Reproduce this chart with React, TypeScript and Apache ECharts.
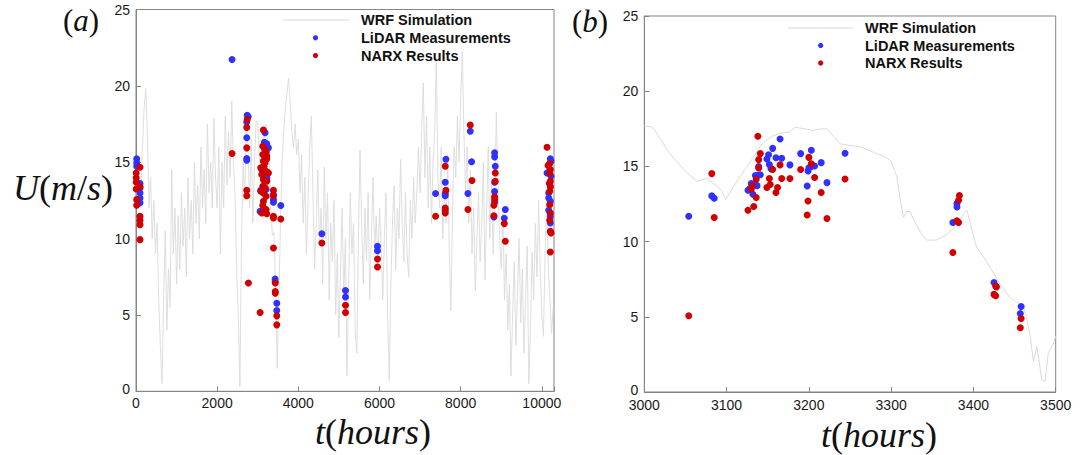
import React, { useEffect, useRef } from 'react';
import * as echarts from 'echarts';

// ---------- Panel (a): WRF simulation (hours, m/s), read every ~40 h ----------
const wrfHoursA = [
  0, 40, 80, 120, 160, 200, 240, 280, 320, 360, 400, 440, 480, 520, 560, 600, 640, 680, 720, 760, 800, 840, 880, 920, 960,
  1000, 1040, 1080, 1120, 1160, 1200, 1240, 1280, 1320, 1360, 1400, 1440, 1480, 1520, 1560, 1600, 1640, 1680, 1720, 1760, 1800, 1840, 1880, 1920, 1960,
  2000, 2040, 2080, 2120, 2160, 2200, 2240, 2280, 2320, 2360, 2400, 2440, 2480, 2520, 2560, 2600, 2640, 2680, 2720, 2760, 2800, 2840, 2880, 2920, 2960,
  3000, 3040, 3080, 3120, 3160, 3200, 3240, 3280, 3320, 3360, 3400, 3440, 3480,
  3520, 3560, 3600, 3640, 3680, 3720, 3760, 3800, 3840, 3880, 3920, 3960,
  4000, 4040, 4080, 4120, 4160, 4200, 4240, 4280, 4320, 4360, 4400, 4440, 4480, 4520, 4560, 4600, 4640, 4680, 4720, 4760, 4800, 4840, 4880, 4920, 4960,
  5000, 5040, 5080, 5120, 5160, 5200, 5240, 5280, 5320, 5360, 5400, 5440, 5480, 5520, 5560, 5600, 5640, 5680, 5720, 5760, 5800, 5840, 5880, 5920, 5960,
  6000, 6040, 6080, 6120, 6160, 6200, 6240, 6280, 6320, 6360, 6400, 6440, 6480, 6520, 6560, 6600, 6640, 6680, 6720, 6760, 6800, 6840, 6880, 6920, 6960,
  7000, 7040, 7080, 7120, 7160, 7200, 7240, 7280, 7320, 7360, 7400, 7440, 7480, 7520, 7560, 7600, 7640, 7680, 7720, 7760, 7800, 7840, 7880, 7920, 7960,
  8000, 8040, 8080, 8120, 8160, 8200, 8240, 8280, 8320, 8360, 8400, 8440, 8480, 8520, 8560, 8600, 8640, 8680, 8720, 8760, 8800, 8840, 8880, 8920, 8960,
  9000, 9040, 9080, 9120, 9160, 9200, 9240, 9280, 9320, 9360, 9400, 9440, 9480, 9520, 9560, 9600, 9640, 9680, 9720, 9760, 9800, 9840, 9880, 9920, 9960,
  10000, 10040, 10080, 10120, 10160, 10200, 10240, 10280,
];
const wrfSpeedA = [
  13.5, 12.5, 14, 13, 16, 18.5, 19.8, 17, 12, 14, 10, 12.5, 9, 11, 6, 3, 0.5, 6, 10.5, 4, 8, 5.5, 14.5, 9, 12,
  7, 11.5, 8, 13, 9.5, 12, 7.5, 14, 10, 12.5, 9, 15, 11, 13.5, 10, 16, 12, 14.5, 11, 17.5, 13, 15, 12, 17.9, 14,
  12, 16, 9, 15, 12, 18, 13.5, 17, 14, 19, 15, 13, 8, 5, 0.3, 10, 15, 12.5, 18, 16, 12, 16.5, 11, 15, 17.7,
  17.7, 15.3, 13.9, 14.6, 17.1, 17.5, 16.5, 15.9, 12.0, 10.2, 10.4, 6.6, 1.5,
  6, 11, 15, 17, 18.5, 19.5, 20.5, 19, 17, 16, 17.5, 15.5,
  16.5, 13, 15.5, 11, 14, 9, 12.5, 16, 18, 13, 8, 11, 14.5, 9.5, 12, 7, 14.7, 10, 13, 6, 11, 8.5, 12.5, 5, 9,
  3.5, 8, 12, 6, 10, 1.0, 7, 13, 9, 11, 4, 2.5, 10, 15.8, 11, 7, 12, 8.5, 13, 6, 10, 14, 9, 11.5, 8,
  12, 9.5, 6, 10, 13, 5, 0.7, 7, 11, 13.5, 8, 12, 10, 15.2, 11, 8.5, 13, 9, 7.5, 12.5, 10, 14, 11, 13, 16,
  13, 17, 20.2, 14, 18, 12, 16, 11, 15, 17, 21.7, 14, 12, 16, 10, 13, 11, 15.5, 9, 5.3, 12, 16, 14, 18, 15,
  19, 22.2, 17, 13, 16, 11, 14.5, 9, 12, 6.6, 10, 13, 8.5, 11, 15, 7.3, 12, 16, 10, 14, 9, 12.5, 18.3, 13, 10,
  8, 12, 6, 9, 4, 7, 1.0, 5, 8.5, 3, 6.5, 10, 4.5, 8, 2.5, 6, 9.5, 0.5, 4, 9.1, 6, 11, 7.5, 12.5, 8,
  5, 3.6, 9, 12.5, 8, 6, 3.8, 5.5,
];

// ---------- Panel (a): LiDAR measurements ----------
const lidarHoursA = [
  17, 17, 17, 99, 99, 99, 99, 99,
  2367,
  2740, 2765, 2729, 2729, 2729, 2729,
  3181, 3164, 3222, 3263, 3099, 3181, 3222, 3074, 3058, 3206, 3206,
  3387, 3387, 3387, 3568, 3428, 3428, 3469, 3469,
  4580, 5162, 5162, 5951, 5951,
  7382, 7637, 7620, 7620, 7620,
  8237, 8269, 8179,
  8837, 8837, 8853, 8837, 8837, 8837, 8820,
  9100, 9075,
  10210, 10227, 10128, 10227, 10170, 10170, 10210, 10170, 10210, 10210,
];
const lidarSpeedA = [
  15.22, 14.96, 14.74, 13.6, 13.32, 12.99, 12.66, 12.34,
  21.72,
  18.08, 17.98, 17.63, 16.6, 15.24, 15.13,
  16.93, 16.31, 16.2, 15.94, 14.52, 14.08, 13.98, 13.16, 11.78, 13.86, 13.21,
  12.88, 12.55, 12.38, 12.16, 7.35, 7.19, 5.77, 5.29,
  10.32, 6.6, 6.17, 9.49, 9.2,
  12.95, 15.2, 13.69, 12.95, 12.81,
  17.03, 15.03, 12.95,
  15.62, 15.35, 14.74, 13.69, 13.08, 12.38, 11.42,
  11.9, 11.33,
  15.22, 15.07, 14.3, 14.08, 12.99, 12.66, 12.44, 11.85, 11.46, 11.02,
];

// ---------- Panel (a): NARX results ----------
const narxHoursA = [
  5, 5, 5, 5, 99, 17, 17, 99, 99, 99, 99, 99,
  2367,
  2740, 2729, 2729, 2729, 2729, 2770, 3058,
  3140, 3124, 3165, 3206, 3124, 3222, 3140, 3181, 3222, 3074, 3156, 3206, 3099, 3263, 3140, 3222, 3124, 3181, 3074, 3140,
  3206, 3140, 3124, 3206, 3099, 3222,
  3387, 3387, 3387, 3387, 3568, 3387, 3432, 3432, 3432, 3469, 3469,
  4580, 5162, 5162, 5951, 5951,
  7382, 7620, 7637, 7620, 7620, 7620,
  8237, 8280, 8179,
  8853, 8853, 8837, 8837, 8820, 8820,
  9075, 9100,
  10128, 10153, 10194, 10210, 10194, 10210, 10186, 10210, 10194, 10194, 10210, 10194, 10210, 10227, 10210,
];
const narxSpeedA = [
  14.3, 13.98, 13.69, 13.25, 14.67, 12.55, 12.18, 13.39, 11.46, 11.19, 10.91, 9.93,
  15.57,
  17.8, 17.28, 15.94, 13.16, 12.81, 7.09, 5.16,
  17.1, 16.05, 15.88, 15.66, 15.5, 15.4, 15.07, 14.96, 15.22, 14.63, 14.74, 14.41, 14.19, 14.3, 13.86, 13.75, 13.43, 13.32, 13.1, 12.99,
  12.77, 12.44, 12.16, 11.9, 11.68, 11.63,
  13.16, 12.81, 11.46, 11.35, 11.28, 9.38, 7.09, 6.54, 6.43, 4.94, 4.35,
  9.71, 5.64, 5.16, 8.66, 8.14,
  11.46, 14.74, 13.16, 12.0, 11.85, 11.68,
  17.43, 13.8, 11.9,
  14.3, 13.75, 12.73, 12.55, 12.18, 11.5,
  10.98, 9.82,
  15.98, 14.78, 14.91, 14.52, 14.26, 13.75, 13.6, 13.39, 13.1, 12.22, 11.68, 11.2, 10.47, 10.37, 9.12,
];

// ---------- Panel (b): WRF simulation ----------
const wrfHoursB = [
  3000, 3010, 3020, 3030, 3040, 3050, 3058, 3064, 3076, 3088, 3094, 3099, 3108, 3116, 3130, 3143, 3155, 3165, 3177, 3183,
  3195, 3205, 3215, 3222, 3230, 3238, 3250, 3262, 3272, 3282, 3290, 3299, 3303, 3307, 3311, 3315, 3319, 3323, 3327, 3331,
  3337, 3343, 3355, 3362, 3368, 3374, 3380, 3386, 3392, 3398, 3404, 3412, 3420, 3432, 3444, 3452, 3461, 3465, 3469, 3473,
  3477, 3480, 3483, 3487, 3491, 3497, 3500,
];
const wrfSpeedB = [
  17.7, 17.6, 16.8, 15.9, 15.3, 14.7, 14.3, 14.0, 14.2, 13.7, 13.4, 12.8, 13.6, 14.3, 15.4, 16.5, 17.0, 17.2, 17.3, 17.6,
  17.5, 17.4, 17.5, 17.5, 17.0, 16.5, 16.4, 16.3, 16.1, 15.85, 15.7, 15.4, 14.9, 14.3, 12.8, 11.6, 12.0, 12.0, 11.5, 11.1,
  10.5, 10.1, 10.1, 10.3, 10.5, 10.8, 11.1, 11.7, 12.1, 10.8, 9.6, 9.0, 8.3, 7.2, 6.3, 6.0, 5.7, 4.8, 3.7, 2.0,
  3.0, 2.0, 0.8, 0.7, 2.6, 3.2, 3.7,
];

// ---------- Panel (b): LiDAR measurements ----------
const lidarHoursB = [
  3054, 3082, 3085, 3165, 3156, 3151, 3149, 3160, 3167, 3139, 3152, 3154, 3177, 3135, 3138, 3141, 3130, 3133, 3137, 3126,
  3128, 3132, 3190, 3203, 3199, 3200, 3203, 3207, 3215, 3222, 3198, 3244,
  3380, 3380, 3375, 3425, 3458, 3457,
];
const lidarSpeedB = [
  11.69, 13.04, 12.88, 16.82, 16.2, 15.78, 15.49, 15.58, 15.54, 14.99, 15.12, 14.85, 15.1, 14.39, 14.41, 14.45, 13.86, 13.77, 13.72, 13.41,
  13.5, 13.15, 15.85, 16.07, 14.7, 14.9, 15.0, 15.03, 15.25, 13.92, 13.7, 15.87,
  12.53, 12.3, 11.27, 7.28, 5.69, 5.22,
];

// ---------- Panel (b): NARX results ----------
const narxHoursB = [
  3054, 3138, 3082, 3085, 3141, 3139, 3139, 3156, 3165, 3136, 3152, 3167, 3177, 3131, 3130, 3149, 3153, 3162, 3160, 3136,
  3133, 3126, 3190, 3200, 3203, 3207, 3215, 3199, 3198, 3222, 3244,
  3383, 3382, 3380, 3382, 3375, 3428, 3427, 3425, 3427, 3458, 3457,
];
const narxSpeedB = [
  5.07, 17.0, 14.52, 11.6, 15.85, 15.45, 14.9, 14.8, 15.1, 14.15, 14.2, 14.2, 14.2, 13.7, 13.5, 13.6, 13.8, 13.6, 13.26, 12.93,
  12.33, 12.08, 14.79, 15.6, 15.18, 14.26, 13.26, 12.7, 11.77, 11.53, 14.16,
  13.06, 12.75, 11.38, 11.27, 9.28, 6.99, 7.04, 6.49, 6.4, 4.89, 4.27,
];

const xTicksA = [0, 2000, 4000, 6000, 8000, 10000];
const yTicks = [0, 5, 10, 15, 20, 25];

const seriesNames = ['WRF Simulation', 'LiDAR Measurements', 'NARX Results'];

const BLUE = '#3030ff';
const RED = '#d00000';
const GREY = '#dadada';
const AXIS = '#858585';
const SANS = 'Liberation Sans, Arial, Helvetica, sans-serif';
const SERIF = 'Liberation Serif, Times New Roman, serif';

const zip = (a: number[], b: number[]) => a.map((v, i) => [v, b[i]]);

function legendGraphics(lineX0: number, lineX1: number, lineY: number, markX: number, textX: number, dy: number) {
  const els: any[] = [];
  els.push({
    type: 'line',
    shape: { x1: lineX0, y1: lineY, x2: lineX1, y2: lineY },
    style: { stroke: '#e4e4e4', lineWidth: 1.5 },
    z: 10,
  });
  els.push({ type: 'circle', shape: { cx: markX, cy: lineY + dy, r: 2.6 }, style: { fill: BLUE }, z: 10 });
  els.push({ type: 'circle', shape: { cx: markX, cy: lineY + 2 * dy, r: 2.6 }, style: { fill: RED }, z: 10 });
  seriesNames.forEach((name, i) => {
    els.push({
      type: 'text',
      x: textX,
      y: lineY + i * dy,
      style: {
        text: name,
        fill: '#111',
        font: `bold 14.5px ${SANS}`,
        verticalAlign: 'middle',
        align: 'left',
      },
      z: 10,
    });
  });
  return els;
}

function mathText(x: number, y: number, content: string, align: string, size: number) {
  return {
    type: 'text',
    x,
    y,
    style: {
      text: content,
      align,
      verticalAlign: 'middle',
      fill: '#111',
      fontFamily: SERIF,
      fontSize: size,
      rich: {
        i: { fontStyle: 'italic', fontFamily: SERIF, fontSize: size, fill: '#111' },
        n: { fontStyle: 'normal', fontFamily: SERIF, fontSize: size, fill: '#111' },
      },
    },
    z: 10,
  };
}

const yLabelFormatter = (v: number) => {
  if (!yTicks.includes(v)) return '';
  return v === 0 ? '{z|0}' : String(v);
};

export default function App() {
  const ref = useRef<HTMLDivElement>(null);

  useEffect(() => {
    if (!ref.current) return;
    const chart = echarts.init(ref.current, undefined, { renderer: 'svg' });

    const axisCommon = {
      axisLine: { show: true, lineStyle: { color: AXIS, width: 1 } },
      axisTick: { show: true, inside: true, length: 5, lineStyle: { color: AXIS } },
      splitLine: { show: false },
      axisLabel: { color: '#1a1a1a', fontSize: 14, fontFamily: SANS },
    };

    const yLabel = {
      ...axisCommon.axisLabel,
      margin: 6,
      formatter: yLabelFormatter,
      rich: { z: { color: '#1a1a1a', fontSize: 14, fontFamily: SANS, padding: [0, 0, 5, 0] } },
    };

    const option: any = {
      animation: false,
      backgroundColor: '#ffffff',
      grid: [
        { left: 136, top: 9.5, width: 418, height: 381.8, show: true, borderColor: AXIS, borderWidth: 1, backgroundColor: 'transparent' },
        { left: 644.3, top: 16, width: 411.4, height: 376, show: true, borderColor: AXIS, borderWidth: 1, backgroundColor: 'transparent' },
      ],
      xAxis: [
        {
          ...axisCommon,
          type: 'value',
          gridIndex: 0,
          min: 0,
          max: 10300,
          interval: 2000,
          axisLabel: {
            ...axisCommon.axisLabel,
            margin: 5,
            formatter: (v: number) => (xTicksA.includes(v) ? String(v) : ''),
          },
        },
        {
          ...axisCommon,
          type: 'value',
          gridIndex: 1,
          min: 3000,
          max: 3500,
          interval: 100,
          axisLabel: { ...axisCommon.axisLabel, margin: 6, formatter: (v: number) => String(v) },
        },
      ],
      yAxis: [
        { ...axisCommon, type: 'value', gridIndex: 0, min: 0, max: 25, interval: 5, axisLabel: yLabel },
        { ...axisCommon, type: 'value', gridIndex: 1, min: 0, max: 25, interval: 5, axisLabel: yLabel },
      ],
      series: [
        {
          name: seriesNames[0],
          type: 'line',
          xAxisIndex: 0,
          yAxisIndex: 0,
          data: zip(wrfHoursA, wrfSpeedA),
          showSymbol: false,
          symbol: 'none',
          lineStyle: { color: GREY, width: 0.9 },
          z: 1,
        },
        {
          name: seriesNames[1],
          type: 'scatter',
          xAxisIndex: 0,
          yAxisIndex: 0,
          data: zip(lidarHoursA, lidarSpeedA),
          symbol: 'circle',
          symbolSize: 7,
          itemStyle: { color: BLUE, opacity: 1 },
          z: 2,
        },
        {
          name: seriesNames[2],
          type: 'scatter',
          xAxisIndex: 0,
          yAxisIndex: 0,
          data: zip(narxHoursA, narxSpeedA),
          symbol: 'circle',
          symbolSize: 7,
          itemStyle: { color: RED, opacity: 1 },
          z: 3,
        },
        {
          name: seriesNames[0] + ' (b)',
          type: 'line',
          xAxisIndex: 1,
          yAxisIndex: 1,
          data: zip(wrfHoursB, wrfSpeedB),
          showSymbol: false,
          symbol: 'none',
          smooth: false,
          lineStyle: { color: GREY, width: 1 },
          z: 1,
        },
        {
          name: seriesNames[1] + ' (b)',
          type: 'scatter',
          xAxisIndex: 1,
          yAxisIndex: 1,
          data: zip(lidarHoursB, lidarSpeedB),
          symbol: 'circle',
          symbolSize: 7,
          itemStyle: { color: BLUE, opacity: 1 },
          z: 2,
        },
        {
          name: seriesNames[2] + ' (b)',
          type: 'scatter',
          xAxisIndex: 1,
          yAxisIndex: 1,
          data: zip(narxHoursB, narxSpeedB),
          symbol: 'circle',
          symbolSize: 7,
          itemStyle: { color: RED, opacity: 1 },
          z: 3,
        },
      ],
      graphic: [
        ...legendGraphics(283, 349, 20, 315.5, 361, 17.8),
        ...legendGraphics(788, 853, 28, 820.7, 865, 17.5),
        mathText(81, 20, '{n|(}{i|a}{n|)}', 'center', 31),
        mathText(590, 21, '{n|(}{i|b}{n|)}', 'center', 31),
        mathText(63, 188, '{i|U}{n|(}{i|m}{n|/}{i|s}{n|)}', 'center', 36),
        mathText(373, 432, '{i|t}{n|(}{i|hours}{n|)}', 'center', 36),
        mathText(879, 435, '{i|t}{n|(}{i|hours}{n|)}', 'center', 36),
      ],
    };

    chart.setOption(option);
    return () => chart.dispose();
  }, []);

  return (
    <div
      ref={ref}
      style={{ position: 'fixed', left: 0, top: 0, width: 1084, height: 455, background: '#fff' }}
    />
  );
}
